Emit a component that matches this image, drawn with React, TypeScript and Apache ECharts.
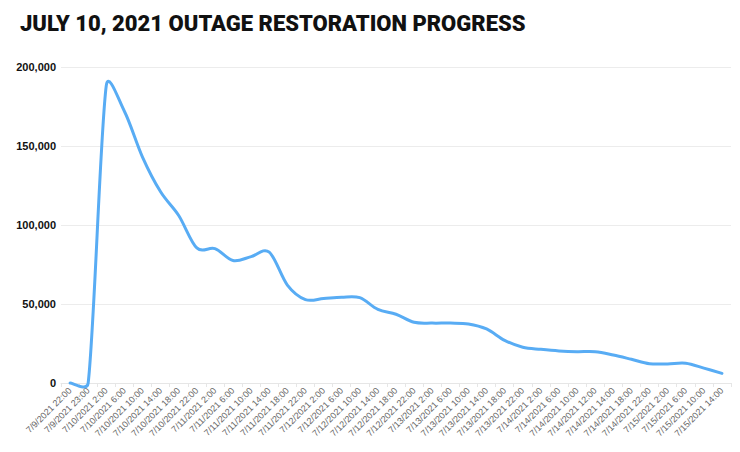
import React, { useEffect, useRef } from "react";
import * as echarts from "echarts";

const categories: string[] = [
  "7/9/2021 22:00", "7/9/2021 23:00",
  "7/10/2021 2:00", "7/10/2021 6:00", "7/10/2021 10:00", "7/10/2021 14:00", "7/10/2021 18:00", "7/10/2021 22:00",
  "7/11/2021 2:00", "7/11/2021 6:00", "7/11/2021 10:00", "7/11/2021 14:00", "7/11/2021 18:00", "7/11/2021 22:00",
  "7/12/2021 2:00", "7/12/2021 6:00", "7/12/2021 10:00", "7/12/2021 14:00", "7/12/2021 18:00", "7/12/2021 22:00",
  "7/13/2021 2:00", "7/13/2021 6:00", "7/13/2021 10:00", "7/13/2021 14:00", "7/13/2021 18:00", "7/13/2021 22:00",
  "7/14/2021 2:00", "7/14/2021 6:00", "7/14/2021 10:00", "7/14/2021 12:00", "7/14/2021 14:00", "7/14/2021 18:00", "7/14/2021 22:00",
  "7/15/2021 2:00", "7/15/2021 6:00", "7/15/2021 10:00", "7/15/2021 14:00",
];

const outages: number[] = [
  0, 0,
  188200, 172000, 143000, 121000, 106000, 85500,
  85000, 77500, 80000, 82800, 62000, 52800,
  53500, 54300, 54000, 46600, 43500, 38400,
  37900, 37900, 37400, 34200, 27000, 22600,
  21300, 20300, 19800, 19800, 17700, 15000, 12200,
  12100, 12500, 9400, 6100,
];

const yTicks = { min: 0, max: 200000, interval: 50000 };

// Spreadsheet-style smoothed path through the points given in pixel space
function smoothPath(pts: number[][]): string {
  const n = pts.length;
  if (n < 2) return "";
  const P = (i: number) => pts[Math.max(0, Math.min(n - 1, i))];
  const dist = (a: number[], b: number[]) => Math.hypot(a[0] - b[0], a[1] - b[1]);
  let d = `M${pts[0][0]},${pts[0][1]}`;
  for (let i = 0; i < n - 1; i++) {
    const p0 = P(i - 1), p1 = P(i), p2 = P(i + 1), p3 = P(i + 2);
    const d02 = dist(p0, p2), d12 = dist(p1, p2), d13 = dist(p1, p3);
    let f0 = 1 / 6, f1 = 1 / 6;
    if (d02 / 6 > d12 / 2 && d02 > 0) f0 = d12 / 2 / d02;
    if (d13 / 6 > d12 / 2 && d13 > 0) f1 = d12 / 2 / d13;
    const c1 = [p1[0] + (p2[0] - p0[0]) * f0, p1[1] + (p2[1] - p0[1]) * f0];
    const c2 = [p2[0] - (p3[0] - p1[0]) * f1, p2[1] - (p3[1] - p1[1]) * f1];
    d += ` C${c1[0]},${c1[1]} ${c2[0]},${c2[1]} ${p2[0]},${p2[1]}`;
  }
  return d;
}

export default function App() {
  const ref = useRef<HTMLDivElement>(null);
  useEffect(() => {
    if (!ref.current) return;
    const chart = echarts.init(ref.current, null, { renderer: "svg" });
    chart.setOption({
      animation: false,
      backgroundColor: "#ffffff",
      title: {
        text: "JULY 10, 2021 OUTAGE RESTORATION PROGRESS",
        left: 15,
        top: 7,
        textStyle: {
          fontFamily: "Roboto",
          fontWeight: 900,
          fontSize: 22,
          color: "#111111",
        },
      },
      grid: { left: 61, right: 9, top: 67, bottom: 69, containLabel: false },
      xAxis: {
        type: "category",
        data: categories,
        boundaryGap: true,
        axisLine: { show: true, lineStyle: { color: "#e6e6e6" } },
        axisTick: { show: true, length: 4, lineStyle: { color: "#e6e6e6" } },
        axisLabel: {
          interval: 0,
          rotate: 45,
          fontSize: 9,
          color: "#666666",
          fontFamily: "Liberation Sans",
          margin: 6,
        },
      },
      yAxis: {
        type: "value",
        min: yTicks.min,
        max: yTicks.max,
        interval: yTicks.interval,
        axisLine: { show: false },
        axisTick: { show: false },
        splitLine: { lineStyle: { color: "#ececec" } },
        axisLabel: {
          fontSize: 11,
          fontWeight: "bold",
          color: "#111111",
          fontFamily: "Liberation Sans",
          margin: 5,
          formatter: (v: number) => v.toLocaleString("en-US"),
        },
      },
      series: [
        {
          type: "custom",
          data: outages.map((v, i) => [i, v]),
          encode: { x: 0, y: 1 },
          clip: false,
          silent: true,
          renderItem: (params: any, api: any) => {
            if (params.dataIndex !== 0) return null;
            const pts = outages.map((v, i) => api.coord([i, v]));
            return {
              type: "path",
              shape: { pathData: smoothPath(pts) },
              style: { stroke: "#58acf4", lineWidth: 3, fill: "none", lineJoin: "round", lineCap: "round" },
            };
          },
        },
      ],
    });
    return () => chart.dispose();
  }, []);
  return (
    <div
      ref={ref}
      style={{ position: "absolute", left: 0, top: 0, width: 740, height: 452 }}
    />
  );
}
